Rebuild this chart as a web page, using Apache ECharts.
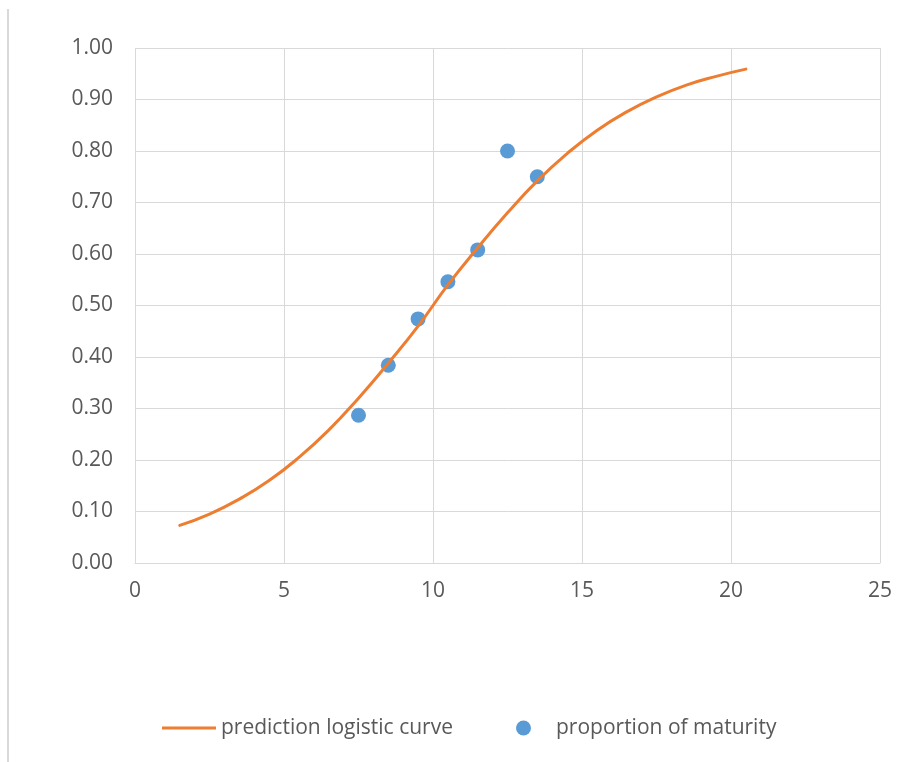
<!DOCTYPE html>
<html>
<head>
<meta charset="utf-8">
<script src="https://cdn.jsdelivr.net/npm/echarts@6/dist/echarts.min.js"></script>
<style>html,body{margin:0;padding:0;background:#fff;}#c{width:912px;height:762px;}</style>
</head>
<body>
<div id="c"></div>
<script>
// Observed proportion of maturity
const obsX = [7.5, 8.5, 9.5, 10.5, 11.5, 12.5, 13.5];
const obsY = [0.287, 0.384, 0.474, 0.546, 0.608, 0.800, 0.750];
// Prediction logistic curve
const curveX = [1.5, 2.5, 3.5, 4.5, 5.5, 6.5, 7.5, 8.5, 9.5, 10.5, 11.5, 12.5, 13.5, 14.5, 15.5, 16.5, 17.5, 18.5, 19.5, 20.5];
const curveY = [0.073, 0.095, 0.124, 0.160, 0.205, 0.258, 0.320, 0.388, 0.460, 0.540, 0.612, 0.680, 0.742, 0.795, 0.840, 0.876, 0.905, 0.928, 0.945, 0.959];
const seriesNames = ['prediction logistic curve', 'proportion of maturity'];

const chart = echarts.init(document.getElementById('c'), null, {renderer: 'canvas'});
const font = 'Open Sans';
const txt = '#595959';
const grid = '#d9d9d9';

chart.setOption({
  animation: false,
  backgroundColor: '#fff',
  grid: {left: 135, top: 48, right: 32, bottom: 199, containLabel: false},
  xAxis: {
    type: 'value', min: 0, max: 25, interval: 5,
    axisLine: {show: true, lineStyle: {color: grid, width: 1}},
    axisTick: {show: false},
    splitLine: {show: true, lineStyle: {color: grid, width: 1}},
    axisLabel: {color: txt, fontFamily: font, fontSize: 21, margin: 18}
  },
  yAxis: {
    type: 'value', min: 0, max: 1, interval: 0.1,
    axisLine: {show: false},
    axisTick: {show: false},
    splitLine: {show: true, lineStyle: {color: grid, width: 1}},
    axisLabel: {color: txt, fontFamily: font, fontSize: 21, margin: 22,
      formatter: v => v.toFixed(2)}
  },
  legend: [
    {
      left: 157, top: 711, itemWidth: 54, itemHeight: 3,
      data: [{name: seriesNames[0], icon: 'rect'}],
      textStyle: {color: txt, fontFamily: font, fontSize: 21, lineHeight: 24}
    },
    {
      left: 511, top: 711, itemWidth: 15, itemHeight: 15,
      data: [{name: seriesNames[1], icon: 'circle'}],
      textStyle: {color: txt, fontFamily: font, fontSize: 21, lineHeight: 24, padding: [0, 0, 0, 20]}
    }
  ],
  graphic: [{
    type: 'line', shape: {x1: 8, y1: 9, x2: 8, y2: 762},
    style: {stroke: grid, lineWidth: 2}
  }],
  series: [
    {
      name: seriesNames[0], type: 'line', smooth: true, symbol: 'none',
      data: curveX.map((x, i) => [x, curveY[i]]),
      lineStyle: {color: '#ed7d31', width: 3, cap: 'round'},
      itemStyle: {color: '#ed7d31'}
    },
    {
      name: seriesNames[1], type: 'scatter', symbol: 'circle', symbolSize: 15,
      data: obsX.map((x, i) => [x, obsY[i]]),
      itemStyle: {color: '#5b9bd5', opacity: 1}
    }
  ]
});
</script>
</body>
</html>
